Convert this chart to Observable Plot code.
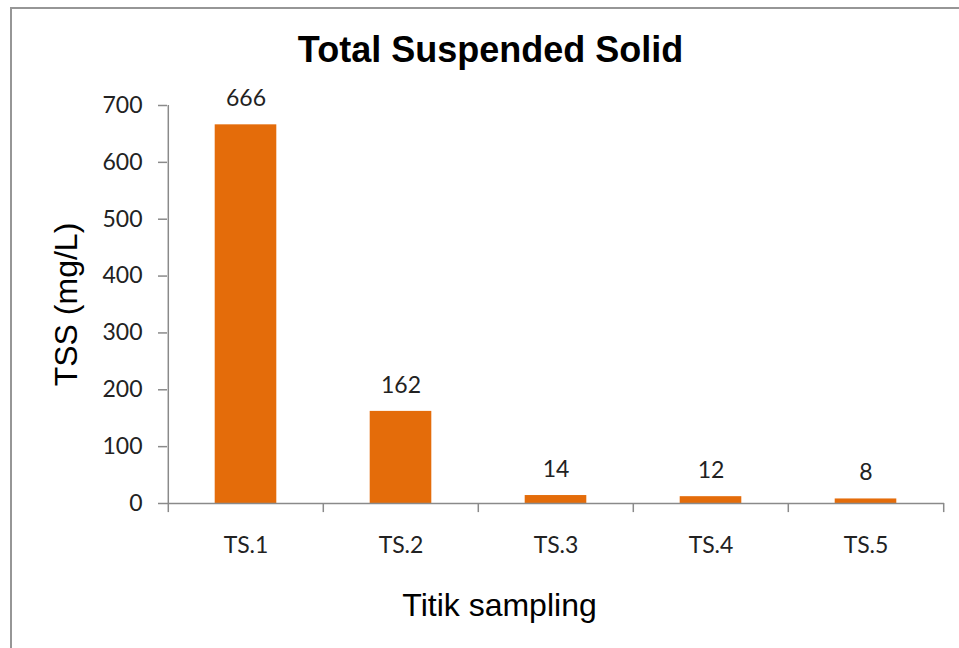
<!DOCTYPE html>
<html><head><meta charset="utf-8">
<script src="https://cdn.jsdelivr.net/npm/d3@7"></script>
<script src="https://cdn.jsdelivr.net/npm/@observablehq/plot@0.6"></script>
<style>
html,body{margin:0;padding:0;background:#fff;overflow:hidden;width:959px;height:648px}
#wrap{position:relative;width:959px;height:648px;overflow:hidden}
#border{position:absolute;left:10px;top:7px;width:1000px;height:700px;border-left:2px solid #969696;border-top:2px solid #969696}
#chart{position:absolute;left:0;top:0}
</style></head><body>
<div id="wrap"><div id="border"></div><div id="chart"></div></div>
<script>
const categories = ["TS.1", "TS.2", "TS.3", "TS.4", "TS.5"];
const tssValues = [666, 162, 14, 12, 8];
const yTicks = [0, 100, 200, 300, 400, 500, 600, 700];
const chartTitle = "Total Suspended Solid";
const yLabel = "TSS (mg/L)";
const xLabel = "Titik sampling";

const data = categories.map((c, i) => ({site: c, tss: tssValues[i]}));
const W = 959, H = 648, mL = 167, mR = 15, mT = 105, mB = 145;
const bw = (W - mL - mR) / categories.length;
const barW = 62;
const axisColor = "#8a8a8a";
const tickFont = "Lato, 'Open Sans', sans-serif";
const arial = "'Liberation Sans', Arial, sans-serif";
const cx = (mL + W - mR) / 2, cy = (mT + H - mB) / 2;

const chart = Plot.plot({
  width: W, height: H,
  marginLeft: mL, marginRight: mR, marginTop: mT, marginBottom: mB,
  style: {background: "transparent", fontFamily: tickFont, fontSize: "23px", color: "#222", overflow: "visible"},
  x: {domain: categories, padding: 0, label: null},
  y: {domain: [0, 700], label: null},
  marks: [
    Plot.barY(data, {x: "site", y: "tss", fill: "#E46C0A", insetLeft: (bw - barW) / 2, insetRight: (bw - barW) / 2}),
    Plot.ruleY([0], {stroke: axisColor, strokeWidth: 1.5}),
    Plot.ruleX([categories[0]], {x: d => d, y1: 0, y2: 700, dx: -bw / 2, stroke: axisColor, strokeWidth: 1.5}),
    Plot.axisY({ticks: yTicks, tickSize: 9, tickPadding: 16, stroke: axisColor, strokeWidth: 1.5, fill: "#222", label: null, fontSize: 23}),
    Plot.axisX({tickSize: 0, tickPadding: 33, label: null, fill: "#222", fontSize: 23}),
    Plot.ruleX(categories, {x: d => d, y1: 0, y2: -16, dx: -bw / 2, stroke: axisColor, strokeWidth: 1.5}),
    Plot.ruleX(categories.slice(-1), {x: d => d, y1: 0, y2: -16, dx: bw / 2, stroke: axisColor, strokeWidth: 1.5}),
    Plot.text(data, {x: "site", y: "tss", text: d => String(d.tss), dy: -26, lineAnchor: "middle", fill: "#222", fontSize: 23}),
    Plot.text([chartTitle], {frameAnchor: "top", dx: 490 - cx, dy: 50 - mT, lineAnchor: "middle", textAnchor: "middle", fontFamily: arial, fontWeight: "bold", fontSize: 36, fill: "#000"}),
    Plot.text([yLabel], {frameAnchor: "left", dx: 66 - mL, dy: 304 - cy, rotate: -90, lineAnchor: "middle", textAnchor: "middle", fontFamily: arial, fontSize: 32, fill: "#000"}),
    Plot.text([xLabel], {frameAnchor: "bottom", dx: 499 - cx, dy: 605 - (H - mB), lineAnchor: "middle", textAnchor: "middle", fontFamily: arial, fontSize: 32, fill: "#000"})
  ]
});
document.getElementById("chart").appendChild(chart);
</script>
</body></html>
